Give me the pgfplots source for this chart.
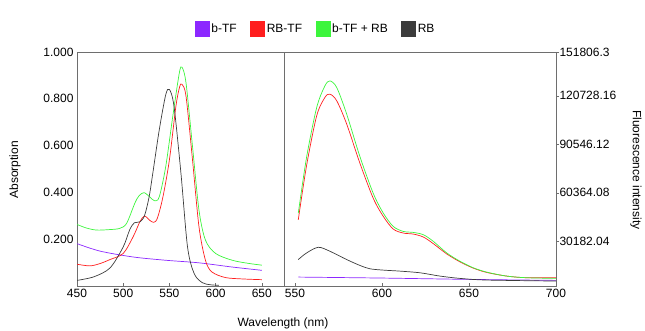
\documentclass[border=0pt]{standalone}
\usepackage{pgfplots}
\pgfplotsset{compat=1.18}
\usepackage{fontspec}
\setmainfont{Liberation Sans}
\definecolor{cpur}{RGB}{140,40,255}
\definecolor{cred}{RGB}{255,30,30}
\definecolor{cgrn}{RGB}{60,245,60}
\definecolor{cblk}{RGB}{60,60,60}
\definecolor{cframe}{RGB}{110,110,110}
\begin{document}
\begin{tikzpicture}
\useasboundingbox (0pt,0pt) rectangle (645pt,331pt);
\pgfplotsset{
  base/.style={scale only axis, height=234pt, anchor=south west,
    axis line style={cframe, line width=0.6pt},
    tick style={cframe, line width=0.6pt}, major tick length=3pt,
    font=\fontsize{12}{14}\selectfont,
    ticklabel style={font=\fontsize{12}{14}\selectfont},
    every axis plot/.append style={line width=0.7pt, smooth, no markers},
    /pgf/number format/assume math mode=true,
    scaled ticks=false,
    xtick pos=bottom}
}
\begin{axis}[base, at={(77pt,45pt)}, width=207pt,
  xmin=450, xmax=674, ymin=0, ymax=1,
  xtick={450,500,550,600,650},
  ytick={0.2,0.4,0.6,0.8,1.0},
  yticklabels={0.200,0.400,0.600,0.800,1.000},
  ytick pos=left, y tick style={draw=none},
  xlabel={Wavelength (nm)},
  xlabel style={at={(axis description cs:0.995,-0.158)}, anchor=center},
  ylabel={Absorption},
  ylabel style={at={(axis description cs:-0.30,0.496)}, anchor=center},
  legend columns=4,
  legend style={at={(1.152,1.098)}, anchor=center, draw=none, fill=none,
    font=\fontsize{12}{14}\selectfont,
    nodes={inner xsep=1.5pt},
    /tikz/every even column/.append style={column sep=12pt}},
  legend image code/.code={\fill[#1, draw=none] (0pt,-7.5pt) rectangle (15pt,8pt);},
]
\addplot[cpur] coordinates {(450,0.181)(475,0.149)(510.7,0.124)(546,0.11)(582,0.099)(618,0.081)(650,0.067)};
\addlegendentry{b-TF}
\addplot[cred] coordinates {(450,0.093)(464,0.086)(475,0.096)(485.7,0.113)(500,0.139)(510.7,0.21)(518,0.274)(523,0.299)(528.6,0.281)(533,0.272)(537,0.29)(543,0.381)(550,0.539)(557,0.767)(561,0.85)(563.6,0.862)(568,0.81)(575,0.539)(582,0.253)(589,0.11)(596,0.06)(610.7,0.036)(630,0.03)(650,0.027)};
\addlegendentry{RB-TF}
\addplot[cgrn] coordinates {(450,0.263)(460,0.248)(471,0.239)(485,0.241)(496,0.246)(503.6,0.267)(512.5,0.353)(517,0.385)(522.5,0.399)(528.6,0.381)(534,0.364)(539,0.381)(546,0.51)(553.6,0.724)(560.7,0.91)(563.6,0.935)(568,0.867)(575,0.596)(582,0.324)(589,0.196)(600,0.139)(618,0.11)(635,0.097)(650,0.089)};
\addlegendentry{b-TF + RB}
\addplot[cblk] coordinates {(450,0.024)(468,0.039)(485.7,0.077)(500,0.167)(507,0.24)(512,0.27)(518,0.274)(523,0.3)(528,0.38)(532,0.481)(539,0.667)(546,0.817)(550,0.84)(555,0.767)(562.5,0.481)(569.6,0.167)(576.8,0.053)(585.7,0.014)(595,0.005)(603.6,0.003)};
\addlegendentry{RB}
\end{axis}
\begin{axis}[base, at={(284pt,45pt)}, width=272pt,
  xmin=543.7, xmax=700, ymin=2400, ymax=148000,
  xtick={550,600,650,700},
  ytick={30182.04,60364.08,90546.12,120728.16,148000},
  yticklabels={30182.04,60364.08,90546.12,120728.16,151806.3},
  ytick pos=right, yticklabel pos=right,
  y tick style={xshift=3pt},
  ylabel={Fluorescence intensity},
  ylabel style={at={(axis description cs:1.294,0.496)}, anchor=center, rotate=180},
]
\addplot[cpur] coordinates {(551.9,7950)(600,7340)(650,6510)(700,5890)};
\addplot[cred] coordinates {(551.9,43560)(556.7,77520)(562.5,108390)(567.2,119700)(570.1,121760)(574,117650)(579.7,103240)(587.4,78540)(595,56940)(600.8,45620)(606.5,37800)(612.3,35330)(618,34710)(623.8,32860)(629.5,28740)(637.2,22360)(644.8,17420)(652.5,13510)(660.2,10830)(671.6,8570)(683,7540)(700,7540)};
\addplot[cgrn] coordinates {(551.9,47675)(556.7,82660)(562.5,113530)(567.2,126900)(570.1,130000)(574,125880)(579.7,109400)(587.4,82660)(595,60020)(600.8,47675)(606.5,39440)(612.3,36350)(618,35740)(623.8,34300)(629.5,30182)(637.2,22980)(644.8,17830)(652.5,13720)(660.2,11040)(671.6,8570)(683,7540)(700,7130)};
\addplot[cblk] coordinates {(551.9,18860)(556.7,22980)(563.4,26480)(570.1,24010)(579.7,18860)(587.4,15160)(593.1,13100)(600.8,12280)(610.3,11660)(621.8,10630)(633.3,8570)(644.8,7130)(660.2,6100)(700,5480)};
\end{axis}
\end{tikzpicture}
\end{document}
